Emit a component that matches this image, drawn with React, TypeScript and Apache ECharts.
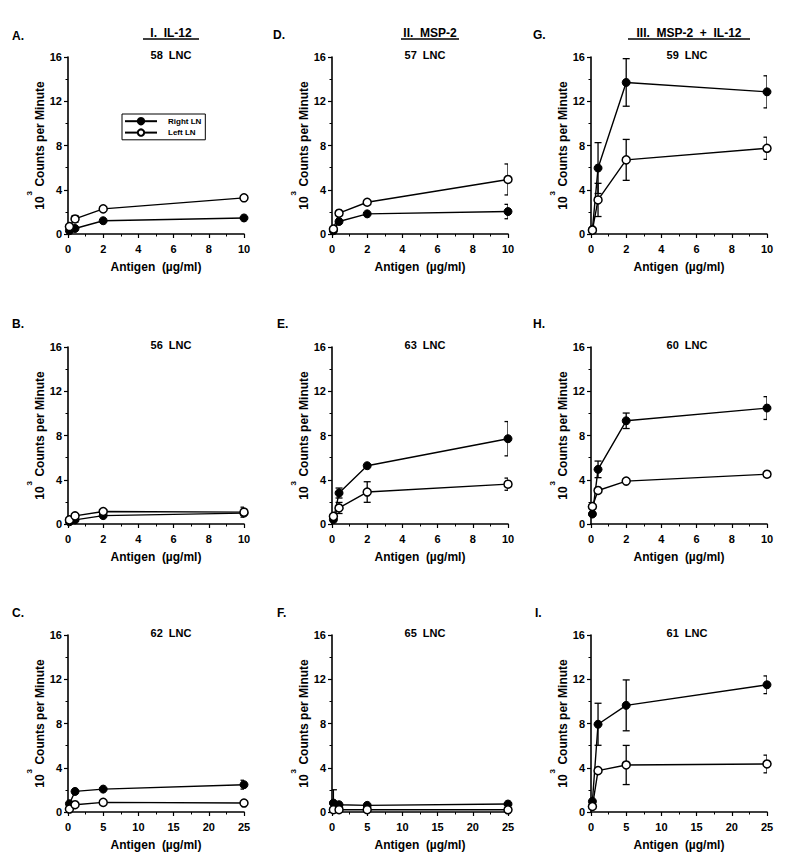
import React, { useEffect, useRef } from "react";
import * as echarts from "echarts";

// Antigen concentrations (µg/ml)
const xLow = [0.08, 0.4, 2, 10];
const xHigh = [0.2, 1, 5, 25];

// Panel A – 58 LNC
const aRight = [0.3, 0.5, 1.2, 1.45];
const aRightErr = [0, 0, 0, 0];
const aLeft = [0.67, 1.36, 2.27, 3.27];
const aLeftErr = [0, 0.3, 0, 0];
// Panel B – 56 LNC
const bRight = [0.2, 0.37, 0.76, 0.98];
const bRightErr = [0, 0, 0, 0.2];
const bLeft = [0.37, 0.73, 1.13, 1.07];
const bLeftErr = [0, 0, 0, 0.45];
// Panel C – 62 LNC
const cRight = [0.75, 1.86, 2.07, 2.47];
const cRightErr = [0, 0, 0, 0.4];
const cLeft = [0.27, 0.66, 0.87, 0.81];
const cLeftErr = [0, 0, 0, 0];
// Panel D – 57 LNC
const dRight = [0.3, 1.13, 1.82, 2.03];
const dRightErr = [0, 0, 0, 0.65];
const dLeft = [0.45, 1.88, 2.87, 4.93];
const dLeftErr = [0, 0, 0, 1.4];
// Panel E – 63 LNC
const eRight = [0.4, 2.8, 5.27, 7.71];
const eRightErr = [0, 0.45, 0, 1.55];
const eLeft = [0.69, 1.45, 2.89, 3.6];
const eLeftErr = [0, 0.5, 0.93, 0.55];
// Panel F – 65 LNC
const fRight = [0.81, 0.66, 0.6, 0.72];
const fRightErr = [1.2, 0, 0, 0];
const fLeft = [0.21, 0.21, 0.21, 0.2];
const fLeftErr = [0, 0, 0, 0];
// Panel G – 59 LNC
const gRight = [0.4, 5.96, 13.7, 12.85];
const gRightErr = [0, 2.3, 2.15, 1.45];
const gLeft = [0.35, 3.08, 6.7, 7.75];
const gLeftErr = [0, 1.5, 1.85, 1.0];
// Panel H – 60 LNC
const hRight = [0.9, 4.94, 9.33, 10.48];
const hRightErr = [0, 0.75, 0.7, 1.03];
const hLeft = [1.58, 3.03, 3.88, 4.5];
const hLeftErr = [0, 0, 0, 0];
// Panel I – 61 LNC
const iRight = [0.96, 7.93, 9.64, 11.5];
const iRightErr = [0, 1.9, 2.3, 0.8];
const iLeft = [0.5, 3.74, 4.25, 4.34];
const iLeftErr = [0, 0, 1.77, 0.8];

const panelLetters = ["A.", "B.", "C.", "D.", "E.", "F.", "G.", "H.", "I."];
const panelLnc = ["58  LNC", "56  LNC", "62  LNC", "57  LNC", "63  LNC", "65  LNC", "59  LNC", "60  LNC", "61  LNC"];
const columnTitles = ["I.  IL-12", "II.  MSP-2", "III.  MSP-2  +  IL-12"];
const seriesNames = ["Right LN", "Left LN"];
const xTitle = "Antigen  (µg/ml)";

const FONT = '"Liberation Sans", Arial, Helvetica, sans-serif';

export default function App() {
  const ref = useRef<HTMLDivElement>(null);

  useEffect(() => {
    if (!ref.current) return;
    const chart = echarts.init(ref.current, undefined, { renderer: "svg" });

    const panels = [
      { x: xLow, r: aRight, re: aRightErr, l: aLeft, le: aLeftErr, max: 10, step: 2 },
      { x: xLow, r: bRight, re: bRightErr, l: bLeft, le: bLeftErr, max: 10, step: 2 },
      { x: xHigh, r: cRight, re: cRightErr, l: cLeft, le: cLeftErr, max: 25, step: 5 },
      { x: xLow, r: dRight, re: dRightErr, l: dLeft, le: dLeftErr, max: 10, step: 2 },
      { x: xLow, r: eRight, re: eRightErr, l: eLeft, le: eLeftErr, max: 10, step: 2 },
      { x: xHigh, r: fRight, re: fRightErr, l: fLeft, le: fLeftErr, max: 25, step: 5 },
      { x: xLow, r: gRight, re: gRightErr, l: gLeft, le: gLeftErr, max: 10, step: 2 },
      { x: xLow, r: hRight, re: hRightErr, l: hLeft, le: hLeftErr, max: 10, step: 2 },
      { x: xHigh, r: iRight, re: iRightErr, l: iLeft, le: iLeftErr, max: 25, step: 5 },
    ];

    const colLeft = [68, 332, 591];
    const rowTop = [57, 347, 635];
    const gridW = 176;
    const gridH = 177;
    const lncX = [171, 425, 687];
    const lncY = [55, 345, 633];
    const letterPos = [
      [12, 36], [12, 324], [12, 613],
      [273, 35], [277, 324], [277, 613],
      [533, 35], [533, 324], [535, 613],
    ];

    const grids: any[] = [];
    const xAxes: any[] = [];
    const yAxes: any[] = [];
    const series: any[] = [];
    const graphics: any[] = [];

    const axisLine = { show: true, lineStyle: { color: "#000", width: 1.6 } };
    const labelStyle = { color: "#000", fontSize: 11, fontWeight: "bold", fontFamily: FONT };

    const errRender = (params: any, api: any) => {
      const x = api.value(0);
      const y = api.value(1);
      const e = api.value(2);
      const top = api.coord([x, y + e]);
      const bot = api.coord([x, y - e]);
      const cap = 3.5;
      const st = { stroke: "#000", lineWidth: 1.3 };
      return {
        type: "group",
        children: [
          { type: "line", shape: { x1: top[0], y1: top[1], x2: bot[0], y2: bot[1] }, style: st },
          { type: "line", shape: { x1: top[0] - cap, y1: top[1], x2: top[0] + cap, y2: top[1] }, style: st },
          { type: "line", shape: { x1: bot[0] - cap, y1: bot[1], x2: bot[0] + cap, y2: bot[1] }, style: st },
        ],
      };
    };

    panels.forEach((p, i) => {
      const col = Math.floor(i / 3);
      const row = i % 3;
      grids.push({ left: colLeft[col], top: rowTop[row], width: gridW, height: gridH, containLabel: false });
      xAxes.push({
        type: "value",
        gridIndex: i,
        min: 0,
        max: p.max,
        interval: p.step,
        axisLine,
        axisTick: { show: true, length: 4, lineStyle: { color: "#000", width: 1.2 } },
        minorTick: { show: true, splitNumber: 2, length: 2.5, lineStyle: { color: "#000", width: 1 } },
        splitLine: { show: false },
        axisLabel: { ...labelStyle, margin: 9 },
        name: xTitle,
        nameLocation: "middle",
        nameGap: 27,
        nameTextStyle: { color: "#000", fontSize: 12, fontWeight: "bold", fontFamily: FONT },
      });
      yAxes.push({
        type: "value",
        gridIndex: i,
        min: 0,
        max: 16,
        interval: 4,
        axisLine,
        axisTick: { show: true, length: 4, lineStyle: { color: "#000", width: 1.2 } },
        minorTick: { show: true, splitNumber: 2, length: 2.5, lineStyle: { color: "#000", width: 1 } },
        splitLine: { show: false },
        axisLabel: { ...labelStyle, margin: 6 },
        name: "{b|10}{s|3}{b| Counts per Minute}",
        nameLocation: "middle",
        nameRotate: 90,
        nameGap: 16,
        nameTextStyle: {
          rich: {
            b: { fontSize: 12, fontWeight: "bold", fontFamily: FONT, color: "#000", lineHeight: 20, verticalAlign: "bottom" },
            s: { fontSize: 8, fontWeight: "bold", fontFamily: FONT, color: "#000", lineHeight: 8, verticalAlign: "top", padding: [0, 1, 0, 1] },
          },
        },
      });

      const errData = (ys: number[], es: number[]) =>
        p.x.map((x, k) => [x, ys[k], es[k]]).filter((d) => d[2] > 0);

      series.push({
        type: "custom",
        xAxisIndex: i,
        yAxisIndex: i,
        renderItem: errRender,
        data: errData(p.r, p.re),
        encode: { x: 0, y: 1 },
        clip: true,
        z: 1,
        silent: true,
      });
      series.push({
        type: "custom",
        xAxisIndex: i,
        yAxisIndex: i,
        renderItem: errRender,
        data: errData(p.l, p.le),
        encode: { x: 0, y: 1 },
        clip: true,
        z: 1,
        silent: true,
      });
      series.push({
        name: seriesNames[0],
        type: "line",
        xAxisIndex: i,
        yAxisIndex: i,
        data: p.x.map((x, k) => [x, p.r[k]]),
        symbol: "circle",
        symbolSize: 8,
        lineStyle: { color: "#000", width: 1.4 },
        itemStyle: { color: "#000", borderColor: "#000", borderWidth: 1 },
        z: 3,
      });
      series.push({
        name: seriesNames[1],
        type: "line",
        xAxisIndex: i,
        yAxisIndex: i,
        data: p.x.map((x, k) => [x, p.l[k]]),
        symbol: "circle",
        symbolSize: 8,
        lineStyle: { color: "#000", width: 1.4 },
        itemStyle: { color: "#fff", borderColor: "#000", borderWidth: 1.5 },
        z: 4,
      });

      graphics.push({
        type: "text",
        x: letterPos[i][0],
        y: letterPos[i][1],
        style: { text: panelLetters[i], font: `bold 12px ${FONT}`, fill: "#000", align: "left", verticalAlign: "middle" },
      });
      graphics.push({
        type: "text",
        x: lncX[col],
        y: lncY[row],
        style: { text: panelLnc[i], font: `bold 11px ${FONT}`, fill: "#000", align: "center", verticalAlign: "middle" },
      });
    });

    const colTitleX = [171, 430, 689];
    const colTitleHalf = [28, 29, 61];
    columnTitles.forEach((t, c) => {
      graphics.push({
        type: "text",
        x: colTitleX[c],
        y: 33,
        style: { text: t, font: `bold 12px ${FONT}`, fill: "#000", align: "center", verticalAlign: "middle" },
      });
      graphics.push({
        type: "line",
        shape: { x1: colTitleX[c] - colTitleHalf[c], y1: 39, x2: colTitleX[c] + colTitleHalf[c], y2: 39 },
        style: { stroke: "#000", lineWidth: 1.4 },
      });
    });

    chart.setOption({
      animation: false,
      backgroundColor: "#fff",
      textStyle: { fontFamily: FONT },
      legend: {
        data: seriesNames,
        orient: "vertical",
        left: 122,
        top: 114,
        itemWidth: 32,
        itemHeight: 8,
        itemGap: 3,
        padding: [3, 4, 3, 2],
        borderColor: "#000",
        borderWidth: 1,
        selectedMode: false,
        textStyle: { color: "#000", fontSize: 8, fontWeight: "bold", fontFamily: FONT, padding: [0, 0, 0, 6] },
      },
      grid: grids,
      xAxis: xAxes,
      yAxis: yAxes,
      series,
      graphic: graphics,
    });

    return () => chart.dispose();
  }, []);

  return <div ref={ref} style={{ position: "absolute", left: 0, top: 0, width: 790, height: 863, background: "#fff" }} />;
}
